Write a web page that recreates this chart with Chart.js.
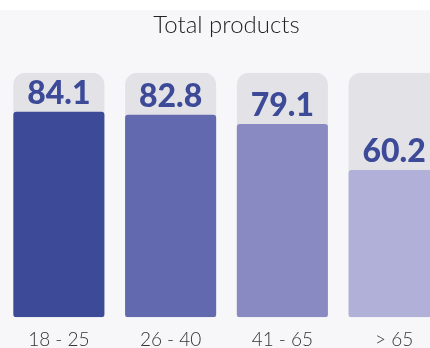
<!DOCTYPE html>
<html>
<head>
<meta charset="utf-8">
<script src="https://cdn.jsdelivr.net/npm/chart.js@4.4.1/dist/chart.umd.min.js"></script>
<style>
  html, body { margin: 0; padding: 0; background: #ffffff; overflow: hidden; }
  #wrap { margin-top: 10px; width: 452px; height: 338px; background: #f7f7f9; overflow: hidden; }
</style>
</head>
<body>
<div id="wrap"><canvas id="products" width="452" height="352"></canvas></div>
<script>
var ageGroups = ['18 - 25', '26 - 40', '41 - 65', '> 65'];
var productValues = [84.1, 82.8, 79.1, 60.2];
var maxValues = [100, 100, 100, 100];
var barColors = ['#3d4a98', '#6369ae', '#8a8ac3', '#b0b0d8'];

// writes the value just above each coloured bar
var valueLabels = {
    id: 'valueLabels',
    afterDatasetsDraw: function(chart) {
        var ctx = chart.ctx;
        var meta = chart.getDatasetMeta(0);
        ctx.save();
        ctx.fillStyle = '#3d4a98';
        ctx.font = '900 32px Lato';
        ctx.textAlign = 'center';
        ctx.textBaseline = 'alphabetic';
        meta.data.forEach(function(bar, i) {
            ctx.fillText(productValues[i].toFixed(1), bar.x, bar.y - 8);
        });
        ctx.restore();
    }
};

var productsChart = new Chart(document.getElementById('products'), {
    type: 'bar',
    data: {
        labels: ageGroups,
        datasets: [{
            label: 'Total products',
            data: productValues,
            backgroundColor: barColors,
            borderRadius: 3,
            borderSkipped: false,
            barPercentage: 0.815,
            categoryPercentage: 1
        }, {
            label: 'Max',
            data: maxValues,
            backgroundColor: '#e3e3e7',
            borderRadius: 12,
            barPercentage: 0.815,
            categoryPercentage: 1
        }]
    },
    options: {
        responsive: false,
        animation: false,
        layout: { padding: { left: 3, right: 2, top: 0, bottom: 0 } },
        plugins: {
            legend: { display: false },
            tooltip: { enabled: false },
            title: {
                display: true,
                text: 'Total products',
                color: '#222222',
                font: { family: 'Lato', size: 24, weight: '300' },
                padding: { top: 1, bottom: 33 }
            }
        },
        scales: {
            x: {
                stacked: true,
                grid: { display: false, drawTicks: false },
                border: { display: false },
                ticks: { color: '#333333', font: { family: 'Lato', size: 19, weight: '300' }, padding: 11 }
            },
            y: {
                display: false,
                min: 0,
                max: 100
            }
        }
    },
    plugins: [valueLabels]
});
</script>
</body>
</html>
